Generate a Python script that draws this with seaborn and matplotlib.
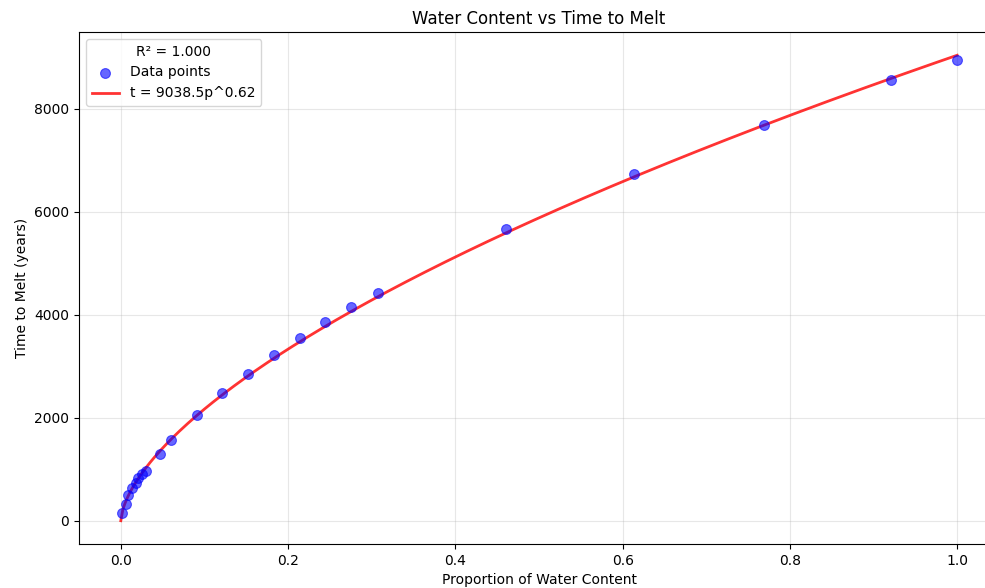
import numpy as np
import pandas as pd
import matplotlib
matplotlib.use("Agg")
import matplotlib.pyplot as plt
import seaborn as sns

# Measured samples: proportion of water content and time to melt (years)
proportion = [0.0016, 0.0056, 0.0087, 0.0135, 0.0176, 0.0207, 0.0255, 0.0296,
              0.0467, 0.060, 0.091, 0.121, 0.152, 0.183, 0.214, 0.244,
              0.275, 0.307, 0.461, 0.613, 0.769, 0.921, 1.0]
melt_years = [150, 330, 491, 635, 732, 829, 907, 971,
              1290, 1573, 2058, 2485, 2854, 3223, 3553, 3864,
              4155, 4427, 5670, 6738, 7689, 8563, 8951]

# Power-law fit parameters t = a * p^b
fit_a = 9038.5
fit_b = 0.62
r_squared = 1.000

df = pd.DataFrame({"p": proportion, "t": melt_years})
p_fit = np.linspace(0, 1, 400)
fit_df = pd.DataFrame({"p": p_fit, "t": fit_a * p_fit ** fit_b})

fig = plt.figure(figsize=(9.85, 5.88), dpi=100)
ax = fig.add_axes([79 / 985, 44 / 588, (999 - 79) / 985, (544 - 32) / 588])

sns.scatterplot(data=df, x="p", y="t", ax=ax, color="blue", alpha=0.6, s=50,
                edgecolor="blue", linewidth=0.8, label="Data points", zorder=3)
sns.lineplot(data=fit_df, x="p", y="t", ax=ax, color="red", alpha=0.8, linewidth=2,
             label=f"t = {fit_a:.1f}p^{fit_b:.2f}", zorder=2)

ax.set_xlim(-0.05, 1.05)
ax.set_ylim(-452, 9490)
ax.set_xticks([0.0, 0.2, 0.4, 0.6, 0.8, 1.0])
ax.set_yticks([0, 2000, 4000, 6000, 8000])
ax.grid(True, alpha=0.3)
ax.set_axisbelow(True)

ax.set_title("Water Content vs Time to Melt", fontsize=12)
ax.set_xlabel("Proportion of Water Content", fontsize=10)
ax.set_ylabel("Time to Melt (years)", fontsize=10)
ax.legend(loc="upper left", fontsize=10, title=f"R² = {r_squared:.3f}",
          title_fontsize=10)

fig.savefig("out.png", dpi=100)
